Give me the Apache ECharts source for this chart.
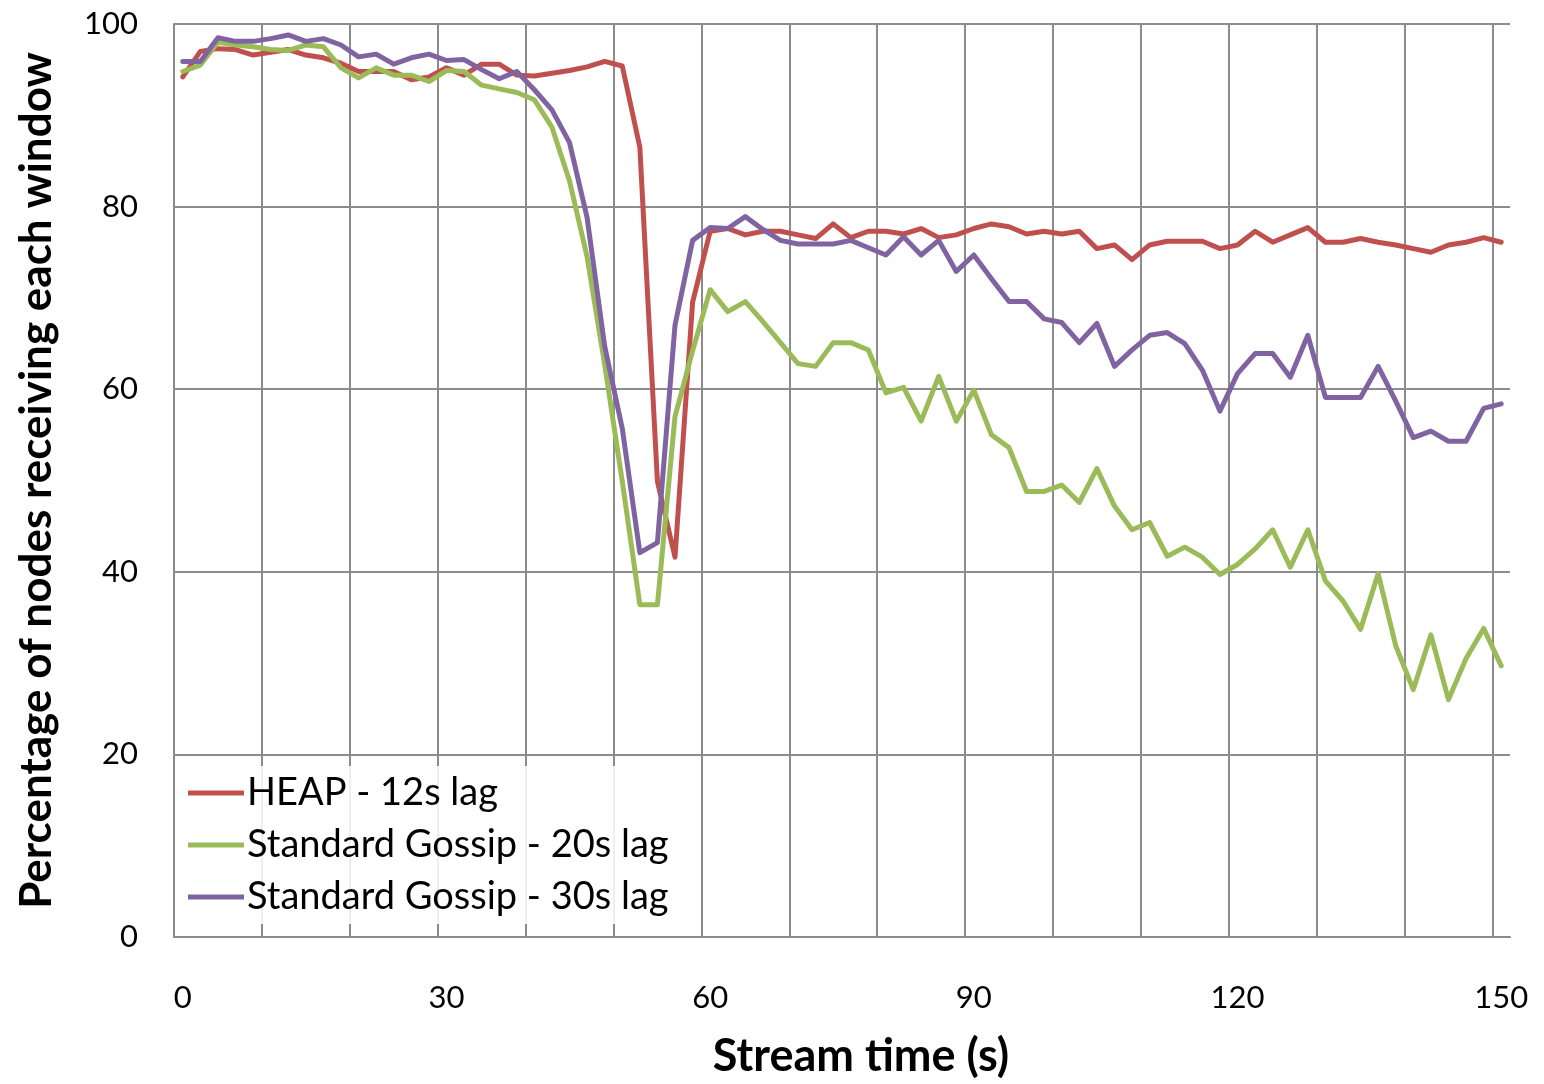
<!DOCTYPE html>
<html>
<head>
<meta charset="utf-8">
<script src="https://cdn.jsdelivr.net/npm/echarts@6/dist/echarts.min.js"></script>
<style>
    html, body { margin: 0; padding: 0; background: #fff; }
    #main { width: 1544px; height: 1084px; }
</style>
</head>
<body>
<div id="main"></div>
<script>
// stream time (s), one point every 2 s
var times = ['0', '2', '4', '6', '8', '10', '12', '14', '16', '18',
    '20', '22', '24', '26', '28', '30', '32', '34', '36', '38',
    '40', '42', '44', '46', '48', '50', '52', '54', '56', '58',
    '60', '62', '64', '66', '68', '70', '72', '74', '76', '78',
    '80', '82', '84', '86', '88', '90', '92', '94', '96', '98',
    '100', '102', '104', '106', '108', '110', '112', '114', '116', '118',
    '120', '122', '124', '126', '128', '130', '132', '134', '136', '138',
    '140', '142', '144', '146', '148', '150'];

var heap12 = [94.2, 97.0, 97.3, 97.2, 96.6, 96.9, 97.2, 96.6, 96.3, 95.7,
    94.8, 94.8, 94.8, 93.9, 94.2, 95.2, 94.4, 95.6, 95.6, 94.4,
    94.3, 94.6, 94.9, 95.3, 95.9, 95.4, 86.5, 49.9, 41.6, 69.5,
    77.3, 77.6, 76.9, 77.3, 77.3, 76.9, 76.5, 78.1, 76.6, 77.3,
    77.3, 77.0, 77.6, 76.6, 76.9, 77.6, 78.1, 77.8, 77.0, 77.3,
    77.0, 77.3, 75.4, 75.8, 74.2, 75.8, 76.2, 76.2, 76.2, 75.4,
    75.8, 77.3, 76.1, 76.9, 77.7, 76.1, 76.1, 76.5, 76.1, 75.8,
    75.4, 75.0, 75.8, 76.1, 76.6, 76.1];

var gossip20 = [94.8, 95.5, 98.0, 97.7, 97.5, 97.2, 97.1, 97.7, 97.5, 95.2,
    94.1, 95.2, 94.4, 94.4, 93.7, 94.9, 94.8, 93.3, 92.9, 92.5,
    91.7, 88.7, 82.8, 74.5, 62.7, 49.9, 36.4, 36.4, 57.0, 64.2,
    70.9, 68.5, 69.6, 67.4, 65.1, 62.8, 62.5, 65.1, 65.1, 64.3,
    59.6, 60.2, 56.5, 61.4, 56.5, 59.9, 55.0, 53.6, 48.8, 48.8,
    49.5, 47.6, 51.3, 47.2, 44.6, 45.4, 41.7, 42.7, 41.6, 39.7,
    40.8, 42.5, 44.6, 40.5, 44.6, 39.0, 36.8, 33.7, 39.8, 31.9,
    27.1, 33.1, 26.0, 30.5, 33.8, 29.7];

var gossip30 = [95.9, 95.9, 98.5, 98.1, 98.1, 98.4, 98.8, 98.1, 98.4, 97.7,
    96.4, 96.7, 95.6, 96.3, 96.7, 96.0, 96.1, 95.0, 94.0, 94.8,
    92.8, 90.6, 87.0, 78.8, 64.7, 55.7, 42.1, 43.2, 67.0, 76.3,
    77.7, 77.6, 78.9, 77.5, 76.3, 75.9, 75.9, 75.9, 76.3, 75.5,
    74.7, 76.7, 74.7, 76.3, 72.9, 74.7, 72.1, 69.6, 69.6, 67.7,
    67.3, 65.1, 67.2, 62.5, 64.3, 65.9, 66.2, 65.0, 62.1, 57.6,
    61.7, 63.9, 63.9, 61.3, 65.9, 59.1, 59.1, 59.1, 62.5, 58.7,
    54.7, 55.4, 54.3, 54.3, 57.9, 58.4];

var seriesNames = ['HEAP - 12s lag', 'Standard Gossip - 20s lag', 'Standard Gossip - 30s lag'];
var seriesColors = ['#C0504D', '#9BBB59', '#8064A2'];

var fontFamily = 'Lato, "Open Sans", sans-serif';
var gridColor = '#8c8c8c';

function lineSeries(name, data, color) {
    return {
        name: name,
        type: 'line',
        data: data,
        symbol: 'none',
        smooth: false,
        color: color,
        lineStyle: { width: 5, color: color, cap: 'round', join: 'round' }
    };
}

var myChart = echarts.init(document.getElementById('main'));
var option = {
    backgroundColor: '#fff',
    animation: false,
    textStyle: { fontFamily: fontFamily, color: '#000' },
    grid: {
        left: 174,
        right: 34,
        top: 24,
        bottom: 144,
        containLabel: false
    },
    legend: {
        data: seriesNames,
        orient: 'vertical',
        left: 176,
        top: 766,
        icon: 'rect',
        itemWidth: 56,
        itemHeight: 5,
        itemGap: 14,
        padding: [8, 12, 8, 12],
        backgroundColor: 'rgba(255,255,255,0.85)',
        textStyle: { fontSize: 38, color: '#000', fontFamily: fontFamily, padding: [0, 0, 0, -2] }
    },
    xAxis: {
        type: 'category',
        data: times,
        boundaryGap: true,
        name: 'Stream time (s)',
        nameLocation: 'middle',
        nameGap: 97,
        nameTextStyle: { fontSize: 45, fontWeight: 'bold', color: '#000', fontFamily: fontFamily, padding: [0, 0, 0, 38] },
        axisLine: { show: true, lineStyle: { color: gridColor, width: 2 } },
        axisTick: { show: false },
        axisLabel: {
            interval: 14,
            margin: 45,
            fontSize: 31,
            color: '#000',
            fontFamily: fontFamily
        },
        splitLine: {
            show: true,
            interval: 4,
            showMaxLine: false,
            lineStyle: { color: gridColor, width: 2 }
        }
    },
    yAxis: {
        type: 'value',
        min: 0,
        max: 100,
        interval: 20,
        name: 'Percentage of nodes receiving each window',
        nameLocation: 'middle',
        nameGap: 115,
        nameTextStyle: { fontSize: 44, fontWeight: 'bold', color: '#000', fontFamily: fontFamily },
        axisLine: { show: true, lineStyle: { color: gridColor, width: 2 } },
        axisTick: { show: false },
        axisLabel: { margin: 36, fontSize: 31, color: '#000', fontFamily: fontFamily },
        splitLine: { show: true, lineStyle: { color: gridColor, width: 2 } }
    },
    series: [
        lineSeries(seriesNames[0], heap12, seriesColors[0]),
        lineSeries(seriesNames[1], gossip20, seriesColors[1]),
        lineSeries(seriesNames[2], gossip30, seriesColors[2])
    ]
};

myChart.setOption(option);
</script>
</body>
</html>
